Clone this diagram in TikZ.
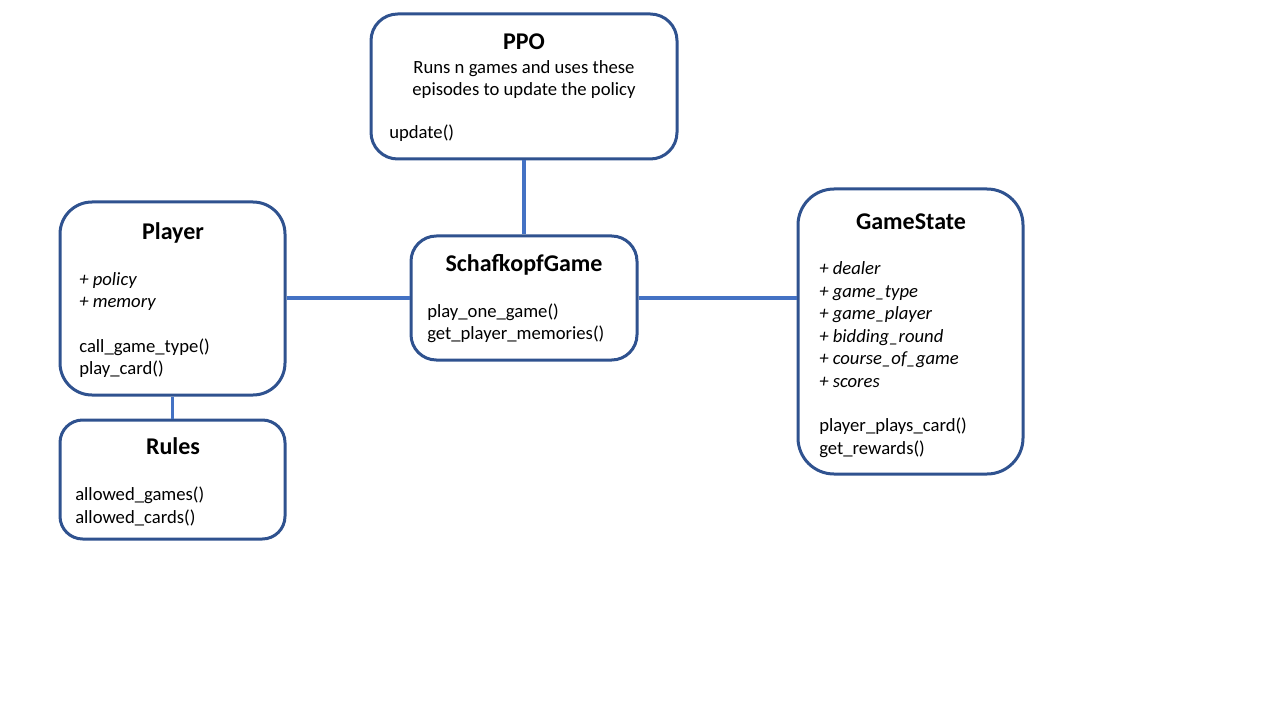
\documentclass[tikz,border=0pt]{standalone}
\usepackage{fontspec}
\setmainfont{Carlito}
\definecolor{boxline}{HTML}{2F528F}
\definecolor{conn}{HTML}{4472C4}
\tikzset{
  box/.style={draw=boxline, line width=2.25pt, fill=white, inner sep=0pt, rectangle},
  link/.style={draw=conn, line width=2.4pt},
  ttl/.style={anchor=base, inner sep=0pt, font=\fontsize{18}{21.6}\selectfont\bfseries},
  txt/.style={anchor=base west, inner sep=0pt, font=\fontsize{14}{16.8}\selectfont},
  ctxt/.style={anchor=base, inner sep=0pt, font=\fontsize{14}{16.8}\selectfont},
  itxt/.style={anchor=base west, inner sep=0pt, font=\fontsize{14}{16.8}\selectfont\itshape},
}
\begin{document}
\begin{tikzpicture}[x=0.75pt, y=-0.75pt]
\useasboundingbox (0,0) rectangle (1280,720);
% boxes
\node[box, rounded corners=20pt, minimum width=229.5pt, minimum height=108.75pt] (ppo) at (524,86.5) {};
\node[box, rounded corners=24pt, minimum width=168.75pt, minimum height=144.75pt] (player) at (172.5,298.5) {};
\node[box, rounded corners=17pt, minimum width=168.75pt, minimum height=89.25pt] (rules) at (172.5,479.5) {};
\node[box, rounded corners=19pt, minimum width=169.5pt, minimum height=93pt] (game) at (524,298) {};
\node[box, rounded corners=27pt, minimum width=168.75pt, minimum height=213.75pt] (state) at (910.5,331.5) {};
% connectors
\draw[link] (ppo.south) -- (game.north);
\draw[link] (player.east |- game.west) -- (game.west);
\draw[link] (game.east) -- (game.east -| state.west);
\draw[link] (player.south) -- (rules.north);
% PPO text
\node[ttl] (ppoT) at (524,50) {PPO};
\node[ctxt] (ppoD1) at (524,74) {Runs n games and uses these};
\node[ctxt] (ppoD2) at (524,96) {episodes to update the policy};
\node[txt] (ppoM1) at (389,139) {update()};
% Player text
\node[ttl] (plT) at (173,239) {Player};
\node[itxt] (plA1) at (79,285) {+ policy};
\node[itxt] (plA2) at (79,307) {+ memory};
\node[txt] (plM1) at (79,352) {call\_game\_type()};
\node[txt] (plM2) at (79,374) {play\_card()};
% Rules text
\node[ttl] (ruT) at (173,454) {Rules};
\node[txt] (ruM1) at (75,500) {allowed\_games()};
\node[txt] (ruM2) at (75,523) {allowed\_cards()};
% SchafkopfGame text
\node[ttl] (gaT) at (524,271) {SchafkopfGame};
\node[txt] (gaM1) at (427,317) {play\_one\_game()};
\node[txt] (gaM2) at (427,339) {get\_player\_memories()};
% GameState text
\node[ttl] (stT) at (911,229) {GameState};
\node[itxt] (stA1) at (819,274) {+ dealer};
\node[itxt] (stA2) at (819,297) {+ game\_type};
\node[itxt] (stA3) at (819,319) {+ game\_player};
\node[itxt] (stA4) at (819,342) {+ bidding\_round};
\node[itxt] (stA5) at (819,364) {+ course\_of\_game};
\node[itxt] (stA6) at (819,387) {+ scores};
\node[txt] (stM1) at (819,431) {player\_plays\_card()};
\node[txt] (stM2) at (819,454) {get\_rewards()};
\end{tikzpicture}
\end{document}
